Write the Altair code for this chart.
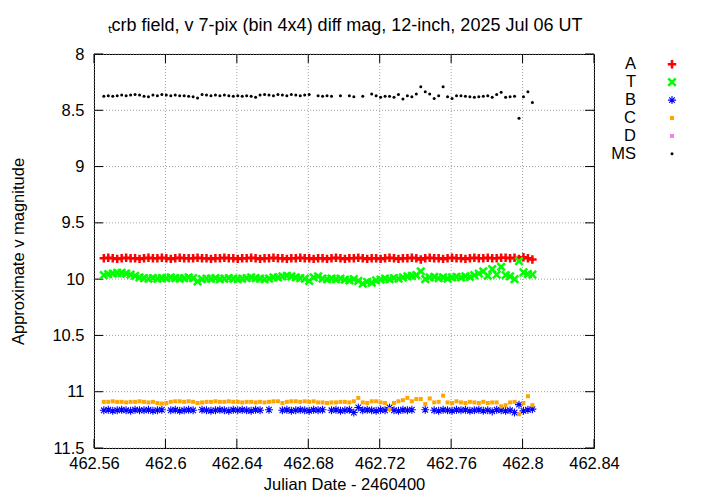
import altair as alt
import pandas as pd

FONT = "Liberation Sans"
TITLE = "ₜcrb field, v 7-pix (bin 4x4) diff mag, 12-inch, 2025 Jul 06 UT"

series_names = ["A", "T", "B", "C", "D", "MS"]
x_ticks = [462.56, 462.6, 462.64, 462.68, 462.72, 462.76, 462.8, 462.84]
y_ticks = [8, 8.5, 9, 9.5, 10, 10.5, 11, 11.5]

jd = [462.5655, 462.5680, 462.5705, 462.5730, 462.5755, 462.5780, 462.5805, 462.5830, 462.5855, 462.5880,
      462.5905, 462.5930, 462.5955, 462.5980, 462.6005, 462.6030, 462.6055, 462.6080, 462.6105, 462.6130,
      462.6155, 462.6180, 462.6205, 462.6230, 462.6255, 462.6280, 462.6305, 462.6330, 462.6355, 462.6380,
      462.6405, 462.6430, 462.6455, 462.6480, 462.6505, 462.6530, 462.6555, 462.6580, 462.6605, 462.6630,
      462.6655, 462.6680, 462.6705, 462.6730, 462.6755, 462.6780, 462.6805, 462.6830, 462.6855, 462.6880,
      462.6905, 462.6930, 462.6955, 462.6980, 462.7005, 462.7030, 462.7055, 462.7080, 462.7105, 462.7130,
      462.7155, 462.7180, 462.7205, 462.7230, 462.7255, 462.7280, 462.7305, 462.7330, 462.7355, 462.7380,
      462.7405, 462.7430, 462.7455, 462.7480, 462.7505, 462.7530, 462.7555, 462.7580, 462.7605, 462.7630,
      462.7655, 462.7680, 462.7705, 462.7730, 462.7755, 462.7780, 462.7805, 462.7830, 462.7855, 462.7880,
      462.7905, 462.7930, 462.7955, 462.7980, 462.8005, 462.8030, 462.8055]

mag_A = [9.815, 9.810, 9.815, 9.820, 9.815, 9.810, 9.815, 9.815, 9.820, 9.815,
         9.810, 9.815, 9.815, 9.810, 9.815, 9.820, 9.815, 9.810, 9.815, 9.815,
         9.815, 9.810, 9.815, 9.815, 9.820, 9.815, 9.815, 9.810, 9.815, 9.815,
         9.820, 9.815, 9.815, 9.810, 9.815, 9.820, 9.815, 9.815, 9.810, 9.815,
         9.815, 9.820, 9.815, 9.815, 9.810, 9.815, 9.815, 9.820, 9.815, 9.815,
         9.820, 9.815, 9.810, 9.815, 9.820, 9.815, 9.815, 9.810, 9.815, 9.820,
         9.815, 9.815, 9.820, 9.815, 9.810, 9.815, 9.820, 9.815, 9.815, 9.810,
         9.815, 9.825, 9.815, 9.810, 9.815, 9.815, 9.820, 9.815, 9.810, 9.815,
         9.815, 9.820, 9.815, 9.810, 9.815, 9.815, 9.810, 9.815, 9.815, 9.810,
         9.810, 9.815, 9.810, 9.820, 9.805, 9.815, 9.825]

mag_T = [9.965, 9.955, 9.950, 9.945, 9.945, 9.950, 9.960, 9.970, 9.985, 9.990,
         9.995, 9.990, 9.995, 9.990, 9.990, 9.985, 9.990, 9.995, 9.990, 9.985,
         9.990, 10.020, 10.000, 9.995, 9.995, 9.990, 10.000, 9.995, 9.990, 9.995,
         10.000, 9.995, 9.990, 9.985, 9.990, 9.995, 10.000, 9.995, 9.985, 9.985,
         9.975, 9.970, 9.975, 9.985, 9.990, 9.995, 10.015, 9.985, 9.975, 9.995,
         10.000, 9.995, 10.000, 9.995, 10.005, 10.010, 10.000, 10.015, 10.040, 10.025,
         10.030, 10.010, 10.005, 9.995, 10.000, 9.990, 9.995, 9.985, 9.975, 9.970,
         9.965, 9.930, 10.000, 9.985, 9.980, 9.990, 9.985, 9.995, 9.985, 9.980,
         9.985, 9.975, 9.980, 9.965, 9.950, 9.930, 9.970, 9.910, 9.960, 9.890,
         9.965, 9.975, 10.000, 9.840, 9.940, 9.955, 9.960]

mag_B = [11.165, 11.160, 11.170, 11.165, 11.160, 11.165, 11.170, 11.160, 11.165, 11.165,
         11.160, 11.170, 11.165, 11.160, None, 11.165, 11.160, 11.170, 11.165, 11.160,
         11.165, None, 11.160, 11.165, 11.170, 11.165, 11.160, 11.165, 11.170, 11.160,
         11.165, 11.160, 11.165, 11.170, 11.160, 11.165, None, 11.160, None, None,
         11.165, 11.160, 11.170, 11.165, 11.160, 11.165, 11.170, 11.160, 11.165, 11.160,
         None, 11.165, 11.160, 11.170, 11.165, 11.160, 11.185, 11.140, 11.165, 11.160,
         11.165, 11.170, 11.160, 11.165, 11.140, 11.165, 11.170, 11.160, 11.165, 11.160,
         None, None, 11.160, None, 11.165, 11.170, 11.160, 11.165, 11.170, 11.160,
         11.165, 11.160, 11.170, 11.165, 11.160, 11.170, 11.165, 11.175, 11.160, 11.165,
         11.170, 11.165, 11.185, 11.115, 11.170, 11.160, 11.155]

mag_C = [11.090, 11.090, 11.085, 11.090, 11.090, 11.095, 11.090, 11.090, 11.085, 11.090,
         11.095, 11.090, 11.100, 11.105, 11.100, 11.090, 11.085, 11.085, 11.090, 11.085,
         11.090, 11.100, 11.095, 11.090, 11.090, 11.085, 11.090, 11.090, 11.085, 11.090,
         11.090, 11.095, 11.090, 11.090, 11.095, 11.090, 11.095, 11.090, 11.085, 11.085,
         11.100, 11.090, 11.085, 11.085, 11.090, 11.085, 11.090, 11.085, 11.095, 11.095,
         11.100, 11.095, 11.095, 11.090, 11.090, 11.095, 11.085, 11.055, 11.095, 11.100,
         11.085, 11.085, 11.095, 11.100, 11.155, 11.100, 11.085, 11.075, 11.055, 11.085,
         11.065, 11.065, 11.110, 11.060, 11.095, 11.090, 11.035, 11.095, 11.100, 11.085,
         11.095, 11.100, 11.090, 11.095, 11.100, 11.090, 11.100, 11.095, 11.095, 11.130,
         11.120, 11.095, 11.090, 11.200, 11.100, 11.040, 11.120]

mag_D = []

mag_MS = [8.375, 8.370, 8.375, 8.370, 8.365, 8.370, 8.365, 8.360, 8.365, 8.375,
          8.380, 8.365, 8.370, 8.360, 8.365, 8.370, 8.365, 8.370, 8.370, 8.375,
          8.380, 8.390, 8.360, 8.365, 8.370, 8.365, 8.370, 8.365, 8.370, 8.375,
          8.370, 8.375, 8.370, 8.375, 8.385, 8.365, 8.360, 8.365, 8.370, 8.360,
          8.365, 8.370, 8.360, 8.365, 8.370, 8.365, 8.360, None, 8.370, 8.375,
          8.370, 8.375, None, 8.370, None, 8.370, 8.380, None, 8.375, None,
          8.355, 8.370, 8.385, 8.375, 8.375, 8.385, 8.360, 8.400, 8.370, 8.380,
          8.355, 8.290, 8.335, 8.355, 8.395, 8.370, 8.290, 8.380, 8.395, 8.370,
          8.370, 8.375, 8.380, 8.385, 8.380, 8.375, 8.370, 8.385, 8.360, 8.340,
          8.385, 8.380, 8.375, 8.570, 8.380, 8.335, 8.430]

series_values = {"A": mag_A, "T": mag_T, "B": mag_B, "C": mag_C, "D": mag_D, "MS": mag_MS}

# one table: data points, plus the tick positions used for grid lines and tick marks
rows = []
for name in series_names:
    for t, v in zip(jd, series_values[name]):
        if v is not None:
            rows.append({"series": name, "jd": t, "mag": v})
for t in x_ticks:
    rows.append({"series": "xtick", "jd": t, "mag": 8.0})
for v in y_ticks:
    rows.append({"series": "ytick", "jd": 462.56, "mag": v})
df = pd.DataFrame(rows)

PLUS = "M-1,0L1,0M0,-1L0,1"
XSHAPE = "M-1,-1L1,1M-1,1L1,-1"
ASTER = "M-1,0L1,0M0,-1L0,1M-0.7,-0.7L0.7,0.7M-0.7,0.7L0.7,-0.7"
VLINE = "M0,-1L0,1"
HLINE = "M-1,0L1,0"

styles = {
    "A": dict(kind="path", shape=PLUS, color="#ff0000", size=72, sw=2.5),
    "T": dict(kind="path", shape=XSHAPE, color="#00ff00", size=56, sw=2.5),
    "B": dict(kind="path", shape=ASTER, color="#0000ff", size=64, sw=1.1),
    "C": dict(kind="square", color="#ffa500", size=16),
    "D": dict(kind="square", color="#ee82ee", size=16),
    "MS": dict(kind="circle", color="#000000", size=9),
}


def make_mark(chart, name):
    st = styles[name]
    if st["kind"] == "path":
        return chart.mark_point(shape=st["shape"], filled=False, color=st["color"],
                                strokeWidth=st["sw"], size=st["size"], opacity=1)
    if st["kind"] == "square":
        return chart.mark_square(color=st["color"], size=st["size"], opacity=1)
    return chart.mark_circle(color=st["color"], size=st["size"], opacity=1)


PW, PH = 500, 394
TICK = 9
LEG_LABEL_X, LEG_SYM_X, LEG_Y0, LEG_DY = 542, 578, 10.3, 17.9

x_scale = alt.Scale(domain=[462.56, 462.84], nice=False, zero=False)
y_scale = alt.Scale(domain=[8, 11.5], reverse=True, nice=False, zero=False)

common_axis = dict(labelFont=FONT, titleFont=FONT, labelFontSize=16.5, titleFontSize=16.5,
                   titleFontWeight="normal", labelColor="black", titleColor="black",
                   grid=False, labelOverlap=False, labelFlush=False, domain=False,
                   ticks=False, tickSize=0)

x_axis_main = alt.Axis(orient="bottom", values=x_ticks, format=".2~f", title="Julian Date - 2460400",
                       labelPadding=7, titlePadding=5, **common_axis)
y_axis_main = alt.Axis(orient="left", values=y_ticks, format=".1~f", title="Approximate v magnitude",
                       labelPadding=10, titlePadding=25, **common_axis)

xenc = alt.X("jd:Q", scale=x_scale, axis=x_axis_main)
yenc = alt.Y("mag:Q", scale=y_scale, axis=y_axis_main)

xt = alt.Chart(df).transform_filter(alt.datum.series == "xtick")
yt = alt.Chart(df).transform_filter(alt.datum.series == "ytick")

# dotted grid lines (long line-shaped symbols centred in the plot)
grid_layers = [
    xt.mark_point(shape=VLINE, filled=False, color="#a0a0a0", strokeWidth=1, strokeDash=[1, 2],
                  size=PH * PH, opacity=1).encode(x=xenc, y=alt.value(PH / 2)),
    yt.mark_point(shape=HLINE, filled=False, color="#a0a0a0", strokeWidth=1, strokeDash=[1, 2],
                  size=PW * PW, opacity=1).encode(y=yenc, x=alt.value(PW / 2)),
]

# inward, mirrored tick marks (gnuplot style)
tick_layers = [
    xt.mark_point(shape=VLINE, filled=False, color="black", strokeWidth=1, size=TICK * TICK,
                  opacity=1).encode(x=xenc, y=alt.value(PH - TICK / 2)),
    xt.mark_point(shape=VLINE, filled=False, color="black", strokeWidth=1, size=TICK * TICK,
                  opacity=1).encode(x=xenc, y=alt.value(TICK / 2)),
    yt.mark_point(shape=HLINE, filled=False, color="black", strokeWidth=1, size=TICK * TICK,
                  opacity=1).encode(y=yenc, x=alt.value(TICK / 2)),
    yt.mark_point(shape=HLINE, filled=False, color="black", strokeWidth=1, size=TICK * TICK,
                  opacity=1).encode(y=yenc, x=alt.value(PW - TICK / 2)),
]

data_layers = []
for name in ["A", "T", "B", "C", "MS"]:
    base = alt.Chart(df).transform_filter(alt.datum.series == name)
    data_layers.append(make_mark(base, name).encode(x=xenc, y=yenc))

# key (gnuplot style: label on the left, sample symbol on the right), outside the plot box
leg_df = pd.DataFrame({"series": series_names})
key_layers = []
for k, name in enumerate(series_names):
    row_y = LEG_Y0 + LEG_DY * k
    base = alt.Chart(leg_df).transform_filter(alt.datum.series == name)
    key_layers.append(base.mark_text(align="right", baseline="middle", font=FONT,
                                     fontSize=16.5, color="black").encode(
        text="series:N", x=alt.value(LEG_LABEL_X), y=alt.value(row_y)))
    key_layers.append(make_mark(base, name).encode(x=alt.value(LEG_SYM_X), y=alt.value(row_y)))

chart = alt.layer(*grid_layers, *tick_layers, *data_layers, *key_layers).properties(
    width=PW, height=PH,
    view=alt.ViewBackground(stroke="black", strokeWidth=1),
    title=alt.TitleParams(text=TITLE, font=FONT, fontSize=18, fontWeight="normal",
                          color="black", anchor="middle", frame="group", dx=1, offset=11),
    padding={"left": 2, "top": 9, "right": 5, "bottom": 0},
).configure(font=FONT)

chart.save("out.html", embed_options={"renderer": "svg", "actions": False})
